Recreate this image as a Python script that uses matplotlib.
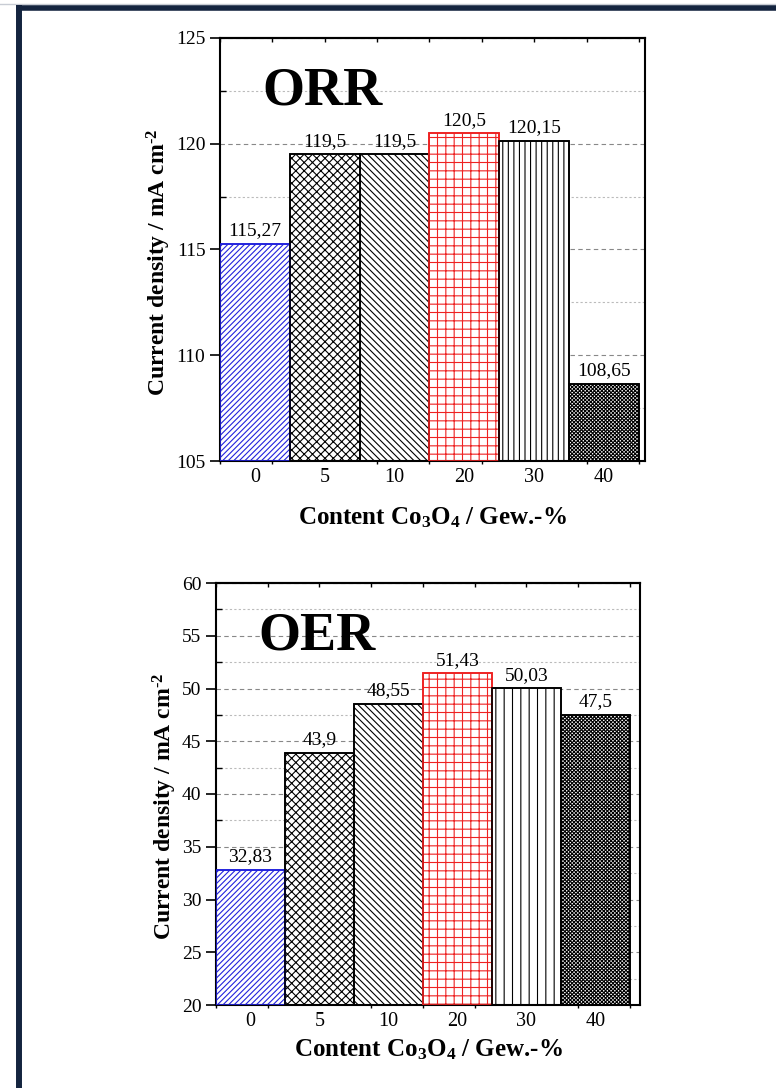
import matplotlib
matplotlib.use("Agg")
import matplotlib.pyplot as plt
import numpy as np
from matplotlib.lines import Line2D

# Data
categories = ["0", "5", "10", "20", "30", "40"]
orr_values = [115.27, 119.5, 119.5, 120.5, 120.15, 108.65]
oer_values = [32.83, 43.9, 48.55, 51.43, 50.03, 47.5]
orr_labels = ["115,27", "119,5", "119,5", "120,5", "120,15", "108,65"]
oer_labels = ["32,83", "43,9", "48,55", "51,43", "50,03", "47,5"]

edge_colors = ["#2222dd", "black", "black", "#ee2222", "black", "black"]
orr_hatches = ["//////", "xxxx", "\\" * 5, "++", "|||", "x" * 9]
oer_hatches = ["//////", "xxxx", "\\" * 5, "++", "||", "x" * 9]

plt.rcParams["font.family"] = "Liberation Serif"
plt.rcParams["mathtext.fontset"] = "custom"
plt.rcParams["mathtext.rm"] = "Liberation Serif"
plt.rcParams["mathtext.bf"] = "Liberation Serif:bold"
plt.rcParams["mathtext.it"] = "Liberation Serif:italic"
plt.rcParams["hatch.linewidth"] = 0.8

fig = plt.figure(figsize=(7.76, 10.88), dpi=100)

# navy frame on the left and top
fig.add_artist(Line2D([0, 1], [1 - 4 / 1088, 1 - 4 / 1088], color="#c8ccd4", lw=1.0))
fig.add_artist(Line2D([0.02385, 0.02385], [0, 1 - 5 / 1088], color="#14243f", lw=4.3, solid_capstyle="butt"))
fig.add_artist(Line2D([0.0206, 1], [1 - 7.5 / 1088, 1 - 7.5 / 1088], color="#14243f", lw=4.0, solid_capstyle="butt"))

ax1 = fig.add_axes([220 / 776, 1 - 461 / 1088, 425 / 776, 423 / 1088])
ax2 = fig.add_axes([216 / 776, 1 - 1005 / 1088, 424 / 776, 422 / 1088])


def draw_panel(ax, values, labels, hatches, ylim, xright, title, xlabelpad):
    x = np.arange(len(categories))
    ax.set_axisbelow(True)
    bars = ax.bar(x, np.array(values) - ylim[0], bottom=ylim[0], width=1.0,
                  color="white", edgecolor=edge_colors, linewidth=1.2, zorder=2)
    for b, h in zip(bars, hatches):
        b.set_hatch(h)
    # outline again on top so the hatch does not eat the edges
    ax.bar(x, np.array(values) - ylim[0], bottom=ylim[0], width=1.0,
           color="none", edgecolor=edge_colors, linewidth=1.2, zorder=3)
    for xi, v, lab in zip(x, values, labels):
        ax.annotate(lab, (xi, v), xytext=(0, 6), textcoords="offset points",
                    ha="center", va="baseline", fontsize=14)

    ax.set_xlim(-0.5, xright)
    ax.set_ylim(*ylim)
    ax.set_xticks(x)
    ax.set_xticklabels(categories, fontsize=14.5)
    ax.set_xticks(np.linspace(-0.5, 5.5, 9), minor=True)
    ax.tick_params(axis="x", which="major", length=0, pad=5)
    ax.tick_params(axis="x", which="minor", direction="out", length=2.5, width=1)
    ax.set_yticks(np.arange(ylim[0], ylim[1] + 0.1, 5))
    ax.set_yticks(np.arange(ylim[0] + 2.5, ylim[1], 5), minor=True)
    ax.tick_params(axis="y", which="major", direction="out", length=7, width=1.2, labelsize=14)
    ax.tick_params(axis="y", which="minor", direction="in", length=4, width=1)

    top = ax.secondary_xaxis("top")
    top.set_xticks(np.linspace(-0.5, 5.5, 9))
    top.tick_params(direction="in", length=3, width=1, labeltop=False)
    top.spines["top"].set_linewidth(1.5)

    for s in ax.spines.values():
        s.set_linewidth(1.5)

    ax.grid(axis="y", which="major", color="#888888", linestyle=(0, (4, 3)), linewidth=0.8)
    ax.grid(axis="y", which="minor", color="#bbbbbb", linestyle=(0, (2, 2)), linewidth=0.8)

    ax.text(0.10, 0.842, title, transform=ax.transAxes, fontsize=39,
            fontweight="bold", ha="left", va="baseline")
    ax.set_ylabel("Current density / mA cm$^{\\mathbf{\u20102}}$", fontsize=17,
                  fontweight="bold", labelpad=2)
    ax.yaxis.label.set_y(0.47)
    ax.set_xlabel(r"Content Co$_\mathbf{3}$O$_\mathbf{4}$ / Gew.-%", fontsize=18,
                  fontweight="bold", labelpad=xlabelpad)


draw_panel(ax1, orr_values, orr_labels, orr_hatches, (105, 125), 5.586, "ORR", 13)
draw_panel(ax2, oer_values, oer_labels, oer_hatches, (20, 60), 5.645, "OER", 5)

fig.savefig("out.png", dpi=100)
